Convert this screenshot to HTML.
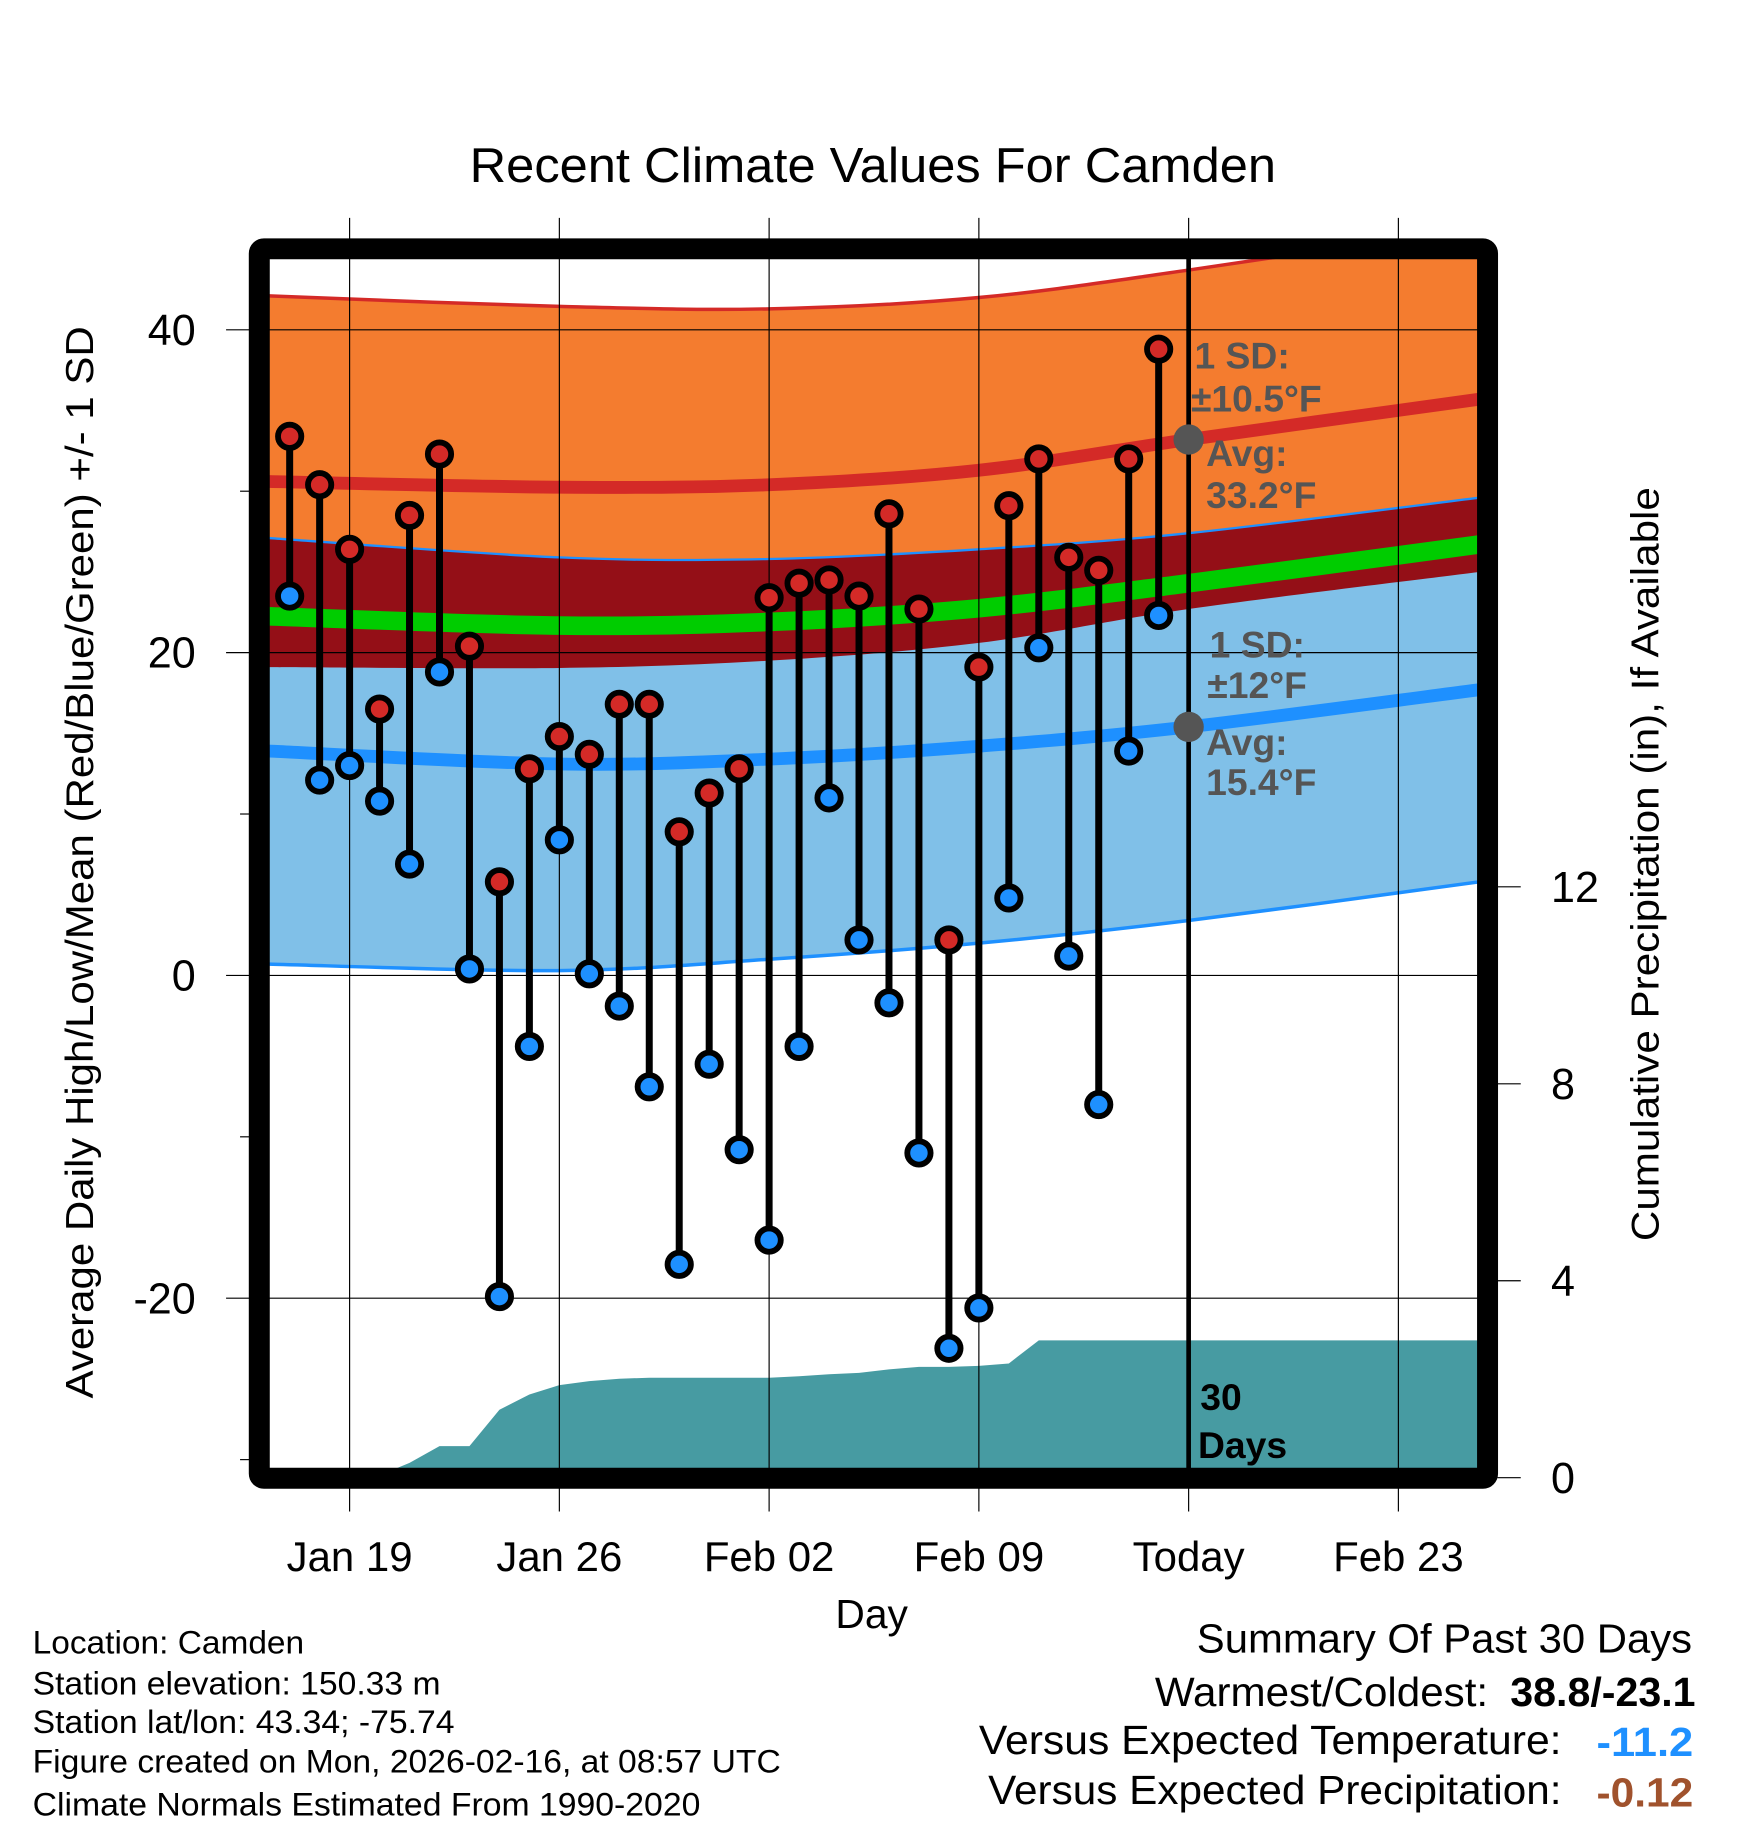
<!DOCTYPE html>
<html><head><meta charset="utf-8"><style>
html,body{margin:0;padding:0;background:#fff}
svg{display:block}
text{font-family:"Liberation Sans",sans-serif}
</style></head><body>
<svg id="chart" width="1748" height="1828" viewBox="0 0 1500 1568.6" preserveAspectRatio="none" xmlns="http://www.w3.org/2000/svg">
<defs><clipPath id="plotclip"><rect x="231" y="221" width="1037" height="1039"/></clipPath></defs>
<g id="layer-bands" clip-path="url(#plotclip)"></g>
<g id="layer-grid"></g>
<g id="layer-marks"></g>
<g id="layer-frame"></g>
<text x="403" y="156" font-size="42" textLength="692" lengthAdjust="spacingAndGlyphs">Recent Climate Values For Camden</text>
<text transform="translate(80,1200) rotate(-90)" font-size="33" textLength="920" lengthAdjust="spacingAndGlyphs">Average Daily High/Low/Mean (Red/Blue/Green) +/- 1 SD</text>
<text transform="translate(1423,1065) rotate(-90)" font-size="33" textLength="647" lengthAdjust="spacingAndGlyphs">Cumulative Precipitation (in), If Available</text>
<text x="748" y="1397" font-size="35" text-anchor="middle">Day</text>
<g font-size="28">
<text x="28" y="1419" textLength="233" lengthAdjust="spacingAndGlyphs">Location: Camden</text>
<text x="28" y="1454" textLength="350" lengthAdjust="spacingAndGlyphs">Station elevation: 150.33 m</text>
<text x="28" y="1487" textLength="362" lengthAdjust="spacingAndGlyphs">Station lat/lon: 43.34; -75.74</text>
<text x="28" y="1521" textLength="642" lengthAdjust="spacingAndGlyphs">Figure created on Mon, 2026-02-16, at 08:57 UTC</text>
<text x="28" y="1558" textLength="573" lengthAdjust="spacingAndGlyphs">Climate Normals Estimated From 1990-2020</text>
</g>
<g font-size="35">
<text x="1027" y="1418" textLength="425" lengthAdjust="spacingAndGlyphs">Summary Of Past 30 Days</text>
<text x="991" y="1464" textLength="286" lengthAdjust="spacingAndGlyphs">Warmest/Coldest:</text>
<text x="1296" y="1464" font-weight="bold" textLength="159" lengthAdjust="spacingAndGlyphs">38.8/-23.1</text>
<text x="840" y="1505" textLength="500" lengthAdjust="spacingAndGlyphs">Versus Expected Temperature:</text>
<text x="1370" y="1507" fill="#1e90ff" font-weight="bold" textLength="83" lengthAdjust="spacingAndGlyphs">-11.2</text>
<text x="848" y="1548" textLength="492" lengthAdjust="spacingAndGlyphs">Versus Expected Precipitation:</text>
<text x="1370" y="1550" fill="#a0522d" font-weight="bold" textLength="83" lengthAdjust="spacingAndGlyphs">-0.12</text>
</g>
</svg>
<script>
// ---- data ----
const dayLabels = ["Jan 19","Jan 26","Feb 02","Feb 09","Today","Feb 23"];
const dayLabelOffsets = [0,7,14,21,28,35];
const yTicks = [40,20,0,-20];
const yMinorTicks = [30,10,-10,-30];
const y2Ticks = [0,4,8,12];
// observations: day offset relative to Jan 19
const obsDays = [-2,-1,0,1,2,3,4,5,6,7,8,9,10,11,12,13,14,15,16,17,18,19,20,21,22,23,24,25,26,27];
const highs = [33.4,30.4,26.4,16.5,28.5,32.3,20.4,5.8,12.8,14.8,13.7,16.8,16.8,8.9,11.3,12.8,23.4,24.3,24.5,23.5,28.6,22.7,2.2,19.1,29.1,32.0,25.9,25.1,32.0,38.8];
const lows = [23.5,12.1,13.0,10.8,6.9,18.8,0.4,-19.9,-4.4,8.4,0.1,-1.9,-6.9,-17.9,-5.5,-10.8,-16.4,-4.4,11.0,2.2,-1.7,-11.0,-23.1,-20.6,4.8,20.3,1.2,-8.0,13.9,22.3];
// normals
const normDays = [-2.7,7,14,21,28,37.7];
const avgHigh = [30.6,30.25,30.4,31.3,33.2,35.7];
const sdHigh = [11.5,11.2,10.9,10.7,10.5,10.7];
const avgLow = [13.9,13.1,13.4,14.2,15.4,17.7];
const sdLow = [13.2,12.8,12.4,12.2,12.0,11.9];
// cumulative precipitation
const precipDays = [-2.7,-2,-1,0,0.8,1,2,3,4,5,6,7,8,9,10,11,12,13,14,15,16,17,18,19,20,21,22,23,24,25,26,27,28,37.7];
const precip = [0,0,0,0,0,0.05,0.3,0.64,0.64,1.38,1.69,1.88,1.96,2.01,2.03,2.03,2.03,2.03,2.03,2.06,2.10,2.13,2.20,2.25,2.25,2.27,2.32,2.79,2.79,2.79,2.79,2.79,2.79,2.79];

// ---- axes ----
const X = d => 300 + d*25.714;
const Y = t => 837 - t*13.85;
const Y2 = p => 1268 - p*42.25;
const NS = "http://www.w3.org/2000/svg";
function mk(tag, attrs, parent){const e=document.createElementNS(NS,tag);for(const k in attrs)e.setAttribute(k,attrs[k]);parent.appendChild(e);return e;}
const bands=document.getElementById('layer-bands'), grid=document.getElementById('layer-grid'), marks=document.getElementById('layer-marks'), frame=document.getElementById('layer-frame');

function smoothPts(xs, ys){
  const p=xs.map((x,i)=>[x,ys[i]]);
  let d="";
  for(let i=0;i<p.length-1;i++){
    const p0=p[Math.max(0,i-1)],p1=p[i],p2=p[i+1],p3=p[Math.min(p.length-1,i+2)];
    const c1=[p1[0]+(p2[0]-p0[0])/6,p1[1]+(p2[1]-p0[1])/6];
    const c2=[p2[0]-(p3[0]-p1[0])/6,p2[1]-(p3[1]-p1[1])/6];
    d+=` C${c1[0]},${c1[1]} ${c2[0]},${c2[1]} ${p2[0]},${p2[1]}`;
  }
  return d;
}
function curve(vals){const xs=normDays.map(X),ys=vals.map(Y);return "M"+xs[0]+","+ys[0]+smoothPts(xs,ys);}
function bandPath(up, lo){
  const xs=normDays.map(X), yu=up.map(Y), yl=lo.map(Y);
  const rx=xs.slice().reverse(), ryl=yl.slice().reverse();
  return "M"+xs[0]+","+yu[0]+smoothPts(xs,yu)+" L"+rx[0]+","+ryl[0]+smoothPts(rx,ryl)+" Z";
}
const hiUp=avgHigh.map((v,i)=>v+sdHigh[i]), hiLo=avgHigh.map((v,i)=>v-sdHigh[i]);
const loUp=avgLow.map((v,i)=>v+sdLow[i]), loLo=avgLow.map((v,i)=>v-sdLow[i]);
const mean=avgHigh.map((v,i)=>(v+avgLow[i])/2);

let e;
e=mk('path',{d:bandPath(hiUp,hiLo),fill:'#f47c2f'},bands);


e=mk('path',{d:bandPath(loUp,loLo),fill:'#80c0e8'},bands);


e=mk('path',{d:bandPath(loUp,hiLo),fill:'#940f17'},bands);


e=mk('path',{d:curve(hiUp),fill:'none',stroke:'#d42a27','stroke-width':3},bands);


e=mk('path',{d:curve(loUp),fill:'none',stroke:'#1e90ff','stroke-width':2},bands);


e=mk('path',{d:curve(loLo),fill:'none',stroke:'#1e90ff','stroke-width':3},bands);


e=mk('path',{d:curve(mean),fill:'none',stroke:'#00cc00','stroke-width':16},bands);


e=mk('path',{d:curve(avgHigh),fill:'none',stroke:'#d42a27','stroke-width':11},bands);


e=mk('path',{d:curve(avgLow),fill:'none',stroke:'#1e90ff','stroke-width':11},bands);


let pd="M"+X(precipDays[0])+","+Y2(0);
precipDays.forEach((d,i)=>{pd+=" L"+X(d)+","+Y2(precip[i]);});
pd+=" L"+X(precipDays[precipDays.length-1])+","+Y2(0)+" Z";
e=mk('path',{d:pd,fill:'#479ba2'},bands);



// grid
dayLabelOffsets.forEach((d,i)=>{
  e=mk('line',{x1:X(d),x2:X(d),y1:187,y2:1297,stroke:'#000','stroke-width':1},grid);
  
  
  e=mk('text',{x:X(d),y:1348,'font-size':36,'text-anchor':'middle'},grid);
  e.textContent=dayLabels[i];
  
  
});
yTicks.forEach(t=>{
  e=mk('line',{x1:194,x2:1268,y1:Y(t),y2:Y(t),stroke:'#000','stroke-width':1},grid);
  
  
  e=mk('text',{x:168,y:Y(t)+13,'font-size':37,'text-anchor':'end'},grid);
  e.textContent=t;
  
  
});
yMinorTicks.forEach(t=>{
  e=mk('line',{x1:206,x2:214,y1:Y(t),y2:Y(t),stroke:'#000','stroke-width':1},grid);
  
  
});
y2Ticks.forEach(p=>{
  e=mk('line',{x1:1285,x2:1305,y1:Y2(p),y2:Y2(p),stroke:'#000','stroke-width':1},grid);
  
  
  e=mk('text',{x:1331,y:Y2(p)+13,'font-size':37},grid);
  e.textContent=p;
  
  
});

e=mk('line',{x1:X(28),x2:X(28),y1:205,y2:1262,stroke:'#000','stroke-width':4},marks);



obsDays.forEach((d,i)=>{
  e=mk('line',{x1:X(d),x2:X(d),y1:Y(highs[i]),y2:Y(lows[i]),stroke:'#000','stroke-width':6},marks);
  
  
});
obsDays.forEach((d,i)=>{
  e=mk('circle',{cx:X(d),cy:Y(highs[i]),r:10,fill:'#d42a27',stroke:'#000','stroke-width':5},marks);
  
  
  e=mk('circle',{cx:X(d),cy:Y(lows[i]),r:10,fill:'#1e90ff',stroke:'#000','stroke-width':5},marks);
  
  
});

const ann=[["1 SD:",1025,316],["±10.5°F",1022,353],["Avg:",1035,400],["33.2°F",1035,436],["1 SD:",1038,564],["±12°F",1036,599],["Avg:",1035,648],["15.4°F",1035,682]];
ann.forEach(a=>{
  e=mk('text',{x:a[1],y:a[2],'font-size':32,'font-weight':'bold',fill:'#555'},marks);
  e.textContent=a[0];
  
  
});
e=mk('circle',{cx:X(28),cy:Y(avgHigh[4]),r:13,fill:'#555'},marks);


e=mk('circle',{cx:X(28),cy:Y(avgLow[4]),r:13,fill:'#555'},marks);


e=mk('text',{x:1030,y:1210,'font-size':32,'font-weight':'bold'},marks);
e.textContent="30";


e=mk('text',{x:1028,y:1251,'font-size':32,'font-weight':'bold'},marks);
e.textContent="Days";



e=mk('rect',{x:222.5,y:213.5,width:1054,height:1055,fill:'none',stroke:'#000','stroke-width':18,rx:4},frame);


</script>
</body></html>
